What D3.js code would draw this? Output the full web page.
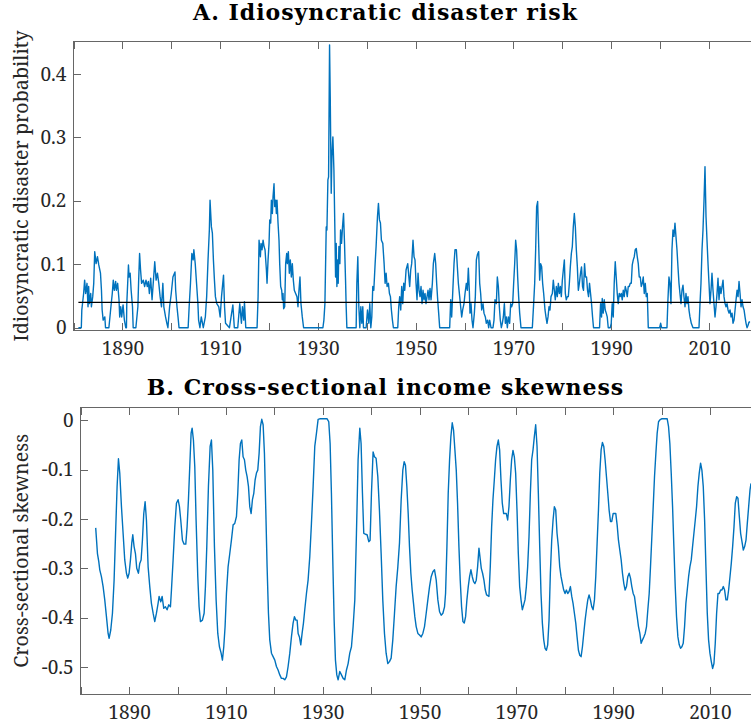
<!DOCTYPE html>
<html>
    <head>
        <meta charset="utf-8">
        <title>Idiosyncratic disaster risk and income skewness</title>
        <style>
body {
    margin: 0;
    background-color: white;
}

svg {
    display: block;
    background-color: white;
}

.axis text {
    font-family: 'Noto Serif', serif;
    font-size: 19px;
    fill: #262626;
}

.axis line {
    stroke: #666;
    stroke-width: 1;
    shape-rendering: crispEdges;
}

.title {
    font-family: 'DejaVu Serif', serif;
    font-size: 22px;
    font-weight: bold;
    letter-spacing: 1px;
    fill: #000;
}

.ylabel {
    font-family: 'Noto Serif', serif;
    font-size: 19.7px;
    fill: #262626;
}

.series {
    fill: none;
    stroke: #0072bd;
    stroke-width: 1.4;
    stroke-linejoin: round;
}
</style>
        <script src="https://cdn.jsdelivr.net/npm/d3@7"></script>
    </head>
    <body>
        <script>
// panel A: idiosyncratic disaster probability
var yearsA = [
    1881.0, 1881.6, 1881.7, 1882.07, 1882.28, 1882.48, 1882.76, 1882.97, 1883.1, 1883.24,
    1883.52, 1883.66, 1883.93, 1884.14, 1884.34, 1884.62, 1884.9, 1885.17, 1885.52, 1885.72,
    1885.86, 1886.07, 1886.41, 1886.55, 1887.24, 1887.59, 1887.93, 1888.14, 1888.34, 1888.62,
    1888.76, 1889.03, 1889.31, 1889.45, 1889.66, 1889.86, 1890.14, 1890.41, 1890.69, 1890.83,
    1890.9, 1891.1, 1891.24, 1891.38, 1891.59, 1891.79, 1892.07, 1892.21, 1892.76, 1893.17,
    1893.31, 1893.52, 1893.72, 1893.93, 1894.28, 1894.55, 1894.83, 1895.1, 1895.31, 1895.52,
    1895.79, 1896.07, 1896.62, 1896.9, 1897.17, 1897.45, 1897.72, 1898.0, 1898.28, 1898.48,
    1898.83, 1899.1, 1899.31, 1899.66, 1900.0, 1900.34, 1900.76, 1900.9, 1901.17, 1901.38,
    1901.59, 1903.45, 1903.66, 1903.93, 1904.21, 1904.48, 1904.62, 1904.9, 1905.17, 1905.45,
    1905.59, 1905.86, 1906.14, 1906.55, 1906.97, 1907.24, 1907.52, 1907.79, 1907.93, 1908.21,
    1908.41, 1908.62, 1908.83, 1909.03, 1909.31, 1909.72, 1910.0, 1910.28, 1910.69, 1910.9,
    1911.1, 1911.9, 1912.6, 1912.9, 1913.6, 1914.01, 1914.35, 1914.56, 1914.83, 1914.97,
    1915.24, 1917.55, 1917.76, 1917.96, 1918.23, 1918.37, 1918.57, 1918.78, 1918.98, 1919.18,
    1919.46, 1919.59, 1919.8, 1920.0, 1920.14, 1920.34, 1920.48, 1920.68, 1920.82, 1921.02,
    1921.16, 1921.36, 1921.5, 1921.63, 1921.84, 1922.04, 1922.18, 1922.38, 1922.59, 1922.72,
    1922.86, 1922.99, 1923.2, 1923.4, 1923.61, 1923.74, 1923.95, 1924.15, 1924.35, 1924.56,
    1924.76, 1924.97, 1925.17, 1925.44, 1925.71, 1925.92, 1926.12, 1926.33, 1926.53, 1926.8,
    1927.07, 1931.02, 1931.22, 1931.43, 1931.7, 1931.84, 1932.04, 1932.18, 1932.38, 1932.52,
    1932.72, 1932.86, 1933.06, 1933.27, 1933.47, 1933.61, 1933.74, 1933.88, 1934.01, 1934.15,
    1934.29, 1934.49, 1934.63, 1934.83, 1935.03, 1935.24, 1935.44, 1935.65, 1935.78, 1935.92,
    1937.82, 1937.96, 1938.16, 1938.37, 1938.57, 1938.78, 1938.98, 1939.18, 1939.32, 1939.86,
    1940.14, 1940.41, 1940.61, 1940.82, 1941.02, 1941.22, 1941.43, 1941.7, 1941.9, 1942.18,
    1942.38, 1942.59, 1942.79, 1942.99, 1943.27, 1943.54, 1943.74, 1943.95, 1944.15, 1944.42,
    1944.63, 1944.83, 1945.03, 1945.24, 1945.44, 1946.33, 1946.53, 1946.73, 1946.94, 1947.14,
    1947.35, 1947.55, 1947.76, 1948.03, 1948.37, 1948.77, 1948.98, 1949.18, 1949.45, 1949.66,
    1949.86, 1950.07, 1950.27, 1950.48, 1950.68, 1950.89, 1951.09, 1951.3, 1951.5, 1951.7,
    1951.91, 1952.11, 1952.32, 1952.52, 1952.73, 1952.93, 1953.14, 1953.41, 1953.61, 1953.89,
    1954.09, 1954.29, 1954.5, 1954.7, 1954.91, 1956.95, 1957.16, 1957.36, 1957.63, 1957.84,
    1958.04, 1958.32, 1958.52, 1958.73, 1959.0, 1959.2, 1959.41, 1959.61, 1959.88, 1960.09,
    1960.36, 1960.57, 1960.77, 1960.97, 1961.11, 1961.32, 1961.52, 1961.72, 1962.0, 1962.2,
    1962.41, 1962.61, 1962.88, 1963.09, 1963.29, 1963.5, 1963.77, 1963.97, 1964.25, 1964.45,
    1964.72, 1964.93, 1965.13, 1965.41, 1965.81, 1966.02, 1966.22, 1966.5, 1966.7, 1966.91,
    1967.11, 1967.31, 1967.52, 1967.72, 1967.93, 1968.14, 1968.34, 1968.54, 1968.75, 1968.96,
    1969.22, 1969.43, 1969.63, 1969.84, 1970.04, 1970.25, 1970.45, 1970.65, 1970.86, 1971.06,
    1971.27, 1971.54, 1973.86, 1974.13, 1974.34, 1974.54, 1974.74, 1974.95, 1975.15, 1975.36,
    1975.56, 1975.77, 1975.97, 1976.18, 1976.45, 1976.65, 1976.86, 1977.07, 1977.27, 1977.47,
    1977.68, 1977.95, 1978.15, 1978.36, 1978.56, 1978.77, 1978.97, 1979.18, 1979.39, 1979.59,
    1979.79, 1980.0, 1980.2, 1980.41, 1980.61, 1980.81, 1981.02, 1981.22, 1981.43, 1981.63,
    1981.84, 1982.04, 1982.24, 1982.45, 1982.66, 1982.86, 1983.07, 1983.27, 1983.48, 1983.72,
    1983.92, 1984.13, 1984.33, 1984.54, 1984.74, 1984.95, 1985.15, 1985.36, 1985.56, 1985.77,
    1985.97, 1986.18, 1986.38, 1987.61, 1987.82, 1988.02, 1988.16, 1988.36, 1988.57, 1988.77,
    1988.98, 1989.18, 1989.39, 1989.8, 1990.0, 1990.2, 1990.41, 1990.61, 1990.82, 1991.02,
    1991.23, 1991.43, 1991.64, 1991.84, 1992.05, 1992.25, 1992.46, 1992.66, 1992.87, 1993.07,
    1993.28, 1993.48, 1993.69, 1993.89, 1994.1, 1994.3, 1994.51, 1994.71, 1994.91, 1995.12,
    1995.32, 1995.53, 1995.73, 1995.94, 1996.14, 1996.35, 1996.55, 1996.76, 1996.96, 1997.17,
    1997.37, 1997.58, 1999.9, 2000.1, 2000.31, 2001.4, 2001.6, 2001.81, 2002.01, 2002.22,
    2002.42, 2002.63, 2002.83, 2003.04, 2003.24, 2003.45, 2003.65, 2003.86, 2004.06, 2004.27,
    2004.47, 2004.68, 2004.88, 2005.09, 2005.29, 2005.49, 2005.7, 2005.9, 2006.11, 2006.38,
    2006.72, 2007.95, 2008.16, 2008.36, 2008.57, 2008.77, 2008.98, 2009.18, 2009.39, 2009.59,
    2009.8, 2010.0, 2010.2, 2010.41, 2010.61, 2010.82, 2011.02, 2011.23, 2011.43, 2011.64,
    2011.84, 2012.05, 2012.25, 2012.46, 2012.66, 2012.87, 2013.07, 2013.28, 2013.48, 2013.69,
    2013.89, 2014.1, 2014.3, 2014.51, 2014.71, 2014.91, 2015.12, 2015.33, 2015.53, 2015.74,
    2015.94, 2016.14, 2016.35, 2016.55, 2016.76, 2016.96, 2017.17, 2017.37, 2017.58, 2017.78,
    2017.99, 2018.19, 2018.4
];
var riskA = [
    0, 0, 0.028, 0.054, 0.075, 0.054, 0.070, 0.033, 0.065, 0.038,
    0.054, 0.033, 0.049, 0.070, 0.120, 0.101, 0.112, 0.099, 0.086, 0.059,
    0.028, 0.012, 0.017, 0, 0, 0.028, 0.054, 0.075, 0.059, 0.073,
    0.059, 0.070, 0.044, 0.017, 0.033, 0.017, 0.036, 0.012, 0, 0,
    0.038, 0.073, 0.099, 0.080, 0.086, 0.059, 0.033, 0, 0, 0.033,
    0.070, 0.117, 0.091, 0.070, 0.075, 0.065, 0.075, 0.065, 0.073, 0.054,
    0.078, 0.044, 0.104, 0.075, 0.086, 0.070, 0.049, 0.033, 0.070, 0.033,
    0.017, 0.007, 0, 0.033, 0.054, 0.080, 0.088, 0.059, 0.033, 0.017,
    0, 0, 0.033, 0.070, 0.117, 0.107, 0.123, 0.101, 0.070, 0.038,
    0.012, 0, 0.017, 0, 0.017, 0.049, 0.107, 0.154, 0.201, 0.159,
    0.149, 0.107, 0.075, 0.049, 0.038, 0.033, 0.017, 0.049, 0.083, 0.033,
    0.007, 0, 0.036, 0, 0, 0.038, 0.007, 0.033, 0.012, 0.041,
    0, 0, 0.049, 0.138, 0.112, 0.133, 0.123, 0.138, 0.128, 0.123,
    0.091, 0.070, 0.107, 0.133, 0.170, 0.165, 0.201, 0.180, 0.207, 0.227,
    0.191, 0.201, 0.180, 0.201, 0.165, 0.138, 0.101, 0.065, 0.059, 0.044,
    0.054, 0.030, 0.033, 0.101, 0.117, 0.101, 0.120, 0.086, 0.107, 0.080,
    0.101, 0.075, 0.059, 0.054, 0.049, 0.033, 0.059, 0.080, 0.038, 0.017,
    0, 0, 0.012, 0.038, 0.159, 0.154, 0.233, 0.238, 0.446, 0.364,
    0.212, 0.270, 0.301, 0.249, 0.154, 0.080, 0.133, 0.065, 0.107, 0.070,
    0.128, 0.101, 0.154, 0.133, 0.159, 0.180, 0.133, 0.075, 0.033, 0,
    0, 0.070, 0.112, 0.033, 0, 0.033, 0.007, 0.033, 0, 0,
    0.028, 0.007, 0.038, 0, 0.017, 0.065, 0.059, 0.101, 0.128, 0.175,
    0.196, 0.170, 0.165, 0.138, 0.133, 0.101, 0.070, 0.086, 0.065, 0.070,
    0.054, 0.049, 0.028, 0.012, 0, 0, 0.033, 0.049, 0.028, 0.065,
    0.038, 0.070, 0.059, 0.091, 0.101, 0.065, 0.091, 0.101, 0.138, 0.112,
    0.107, 0.070, 0.044, 0.086, 0.059, 0.049, 0.065, 0.038, 0.059, 0.044,
    0.054, 0.038, 0.049, 0.059, 0.044, 0.062, 0.044, 0.070, 0.101, 0.117,
    0.101, 0.070, 0.044, 0.023, 0, 0, 0.044, 0.017, 0.065, 0.101,
    0.123, 0.123, 0.096, 0.070, 0.049, 0.033, 0.017, 0.028, 0.038, 0.054,
    0.070, 0.059, 0.094, 0.059, 0.023, 0.038, 0.012, 0, 0.023, 0.049,
    0.107, 0.115, 0.120, 0.070, 0.054, 0.028, 0.038, 0.023, 0.017, 0.007,
    0.012, 0, 0.012, 0, 0, 0.012, 0.044, 0.038, 0.080, 0.065,
    0.033, 0.012, 0, 0.007, 0.017, 0.038, 0.007, 0.017, 0, 0.017,
    0.007, 0.038, 0.033, 0.038, 0.070, 0.101, 0.138, 0.123, 0.080, 0.049,
    0.023, 0, 0, 0.038, 0.070, 0.123, 0.191, 0.199, 0.133, 0.075,
    0.101, 0.096, 0.070, 0.054, 0.028, 0.017, 0.007, 0.017, 0.033, 0.028,
    0.049, 0.054, 0.075, 0.059, 0.044, 0.065, 0.049, 0.070, 0.054, 0.065,
    0.049, 0.075, 0.091, 0.107, 0.054, 0.044, 0.049, 0.049, 0.070, 0.096,
    0.117, 0.128, 0.159, 0.180, 0.159, 0.123, 0.096, 0.059, 0.070, 0.086,
    0.096, 0.065, 0.059, 0.101, 0.080, 0.080, 0.059, 0.049, 0.070, 0.054,
    0.038, 0.017, 0, 0, 0.038, 0.017, 0.046, 0.023, 0.044, 0.028,
    0.023, 0.017, 0, 0, 0.007, 0.038, 0.017, 0.070, 0.104, 0.080,
    0.054, 0.038, 0.054, 0.049, 0.054, 0.044, 0.059, 0.049, 0.065, 0.059,
    0.049, 0.065, 0.065, 0.070, 0.070, 0.099, 0.107, 0.112, 0.123, 0.125,
    0.112, 0.101, 0.080, 0.080, 0.065, 0.070, 0.080, 0.054, 0.070, 0.049,
    0.054, 0, 0, 0.007, 0, 0, 0.044, 0.080, 0.070, 0.038,
    0.123, 0.154, 0.144, 0.165, 0.144, 0.123, 0.096, 0.070, 0.054, 0.038,
    0.059, 0.067, 0.049, 0.033, 0.054, 0.038, 0.049, 0.028, 0.017, 0.007,
    0, 0, 0.038, 0.070, 0.123, 0.154, 0.201, 0.254, 0.175, 0.138,
    0.101, 0.070, 0.038, 0.059, 0.086, 0.059, 0.038, 0.017, 0.033, 0.054,
    0.078, 0.044, 0.065, 0.054, 0.065, 0.075, 0.049, 0.038, 0.033, 0.038,
    0.028, 0.023, 0.028, 0.017, 0.023, 0.007, 0.012, 0.028, 0.044, 0.059,
    0.049, 0.073, 0.054, 0.033, 0.044, 0.033, 0.028, 0.017, 0.007, 0,
    0.004, 0.009, 0.009
];
var thresholdA = 0.04;
var thresholdYears = [1881, 2019];

// panel B: cross-sectional income skewness
var yearsB = [
    1883.1, 1883.46, 1883.73, 1883.94, 1884.28, 1884.63, 1884.97, 1885.32, 1885.66, 1885.87,
    1886.21, 1886.56, 1886.9, 1887.25, 1887.52, 1887.8, 1888.07, 1888.42, 1888.76, 1889.1,
    1889.45, 1889.72, 1890.0, 1890.28, 1890.55, 1890.76, 1891.03, 1891.31, 1891.58, 1891.93,
    1892.2, 1892.48, 1892.75, 1893.03, 1893.31, 1893.58, 1893.93, 1894.27, 1894.61, 1894.96,
    1895.3, 1895.65, 1895.99, 1896.2, 1896.54, 1896.82, 1897.16, 1897.51, 1897.85, 1898.2,
    1898.54, 1898.75, 1899.09, 1899.44, 1899.78, 1900.12, 1900.4, 1900.67, 1901.02, 1901.36,
    1901.71, 1901.98, 1902.26, 1902.53, 1902.81, 1903.02, 1903.29, 1903.57, 1903.84, 1904.19,
    1904.46, 1904.74, 1905.15, 1905.5, 1905.77, 1906.05, 1906.39, 1906.74, 1907.01, 1907.29,
    1907.63, 1907.98, 1908.32, 1908.66, 1909.01, 1909.28, 1909.56, 1909.83, 1910.11, 1910.45,
    1910.8, 1911.14, 1911.49, 1911.83, 1912.18, 1912.45, 1912.73, 1913.0, 1913.28, 1913.55,
    1913.83, 1914.1, 1914.38, 1914.66, 1914.93, 1915.21, 1915.48, 1915.76, 1916.03, 1916.31,
    1916.58, 1916.86, 1917.13, 1917.41, 1917.69, 1917.96, 1918.24, 1918.51, 1918.79, 1919.06,
    1919.41, 1919.75, 1920.1, 1920.44, 1920.78, 1921.13, 1921.47, 1921.82, 1922.16, 1922.51,
    1922.85, 1923.2, 1923.54, 1923.88, 1924.16, 1924.44, 1924.71, 1924.92, 1925.19, 1925.47,
    1925.74, 1926.02, 1926.29, 1926.64, 1926.98, 1927.33, 1927.67, 1928.02, 1928.36, 1928.71,
    1929.05, 1929.39, 1930.08, 1930.91, 1931.25, 1931.53, 1931.8, 1932.08, 1932.36, 1932.63,
    1932.91, 1933.18, 1933.53, 1933.87, 1934.22, 1934.56, 1934.91, 1935.25, 1935.59, 1935.94,
    1936.28, 1936.63, 1936.97, 1937.31, 1937.66, 1937.93, 1938.21, 1938.48, 1938.83, 1939.17,
    1939.52, 1939.79, 1940.07, 1940.41, 1940.69, 1941.03, 1941.38, 1941.72, 1942.07, 1942.41,
    1942.76, 1943.1, 1943.45, 1943.79, 1944.14, 1944.48, 1944.83, 1945.17, 1945.52, 1945.86,
    1946.21, 1946.55, 1946.83, 1947.1, 1947.38, 1947.66, 1947.93, 1948.21, 1948.48, 1948.76,
    1949.03, 1949.31, 1949.66, 1950.0, 1950.34, 1950.69, 1951.03, 1951.38, 1951.72, 1952.07,
    1952.41, 1952.76, 1953.1, 1953.45, 1953.79, 1954.14, 1954.48, 1954.83, 1955.17, 1955.38,
    1955.66, 1955.93, 1956.21, 1956.48, 1956.76, 1957.03, 1957.31, 1957.59, 1957.86, 1958.14,
    1958.41, 1958.69, 1958.97, 1959.24, 1959.52, 1959.79, 1960.07, 1960.34, 1960.62, 1960.9,
    1961.17, 1961.45, 1961.72, 1962.0, 1962.28, 1962.48, 1962.76, 1963.03, 1963.31, 1963.59,
    1963.86, 1964.34, 1964.62, 1964.9, 1965.17, 1965.45, 1965.72, 1966.0, 1966.28, 1966.55,
    1966.83, 1967.1, 1967.38, 1967.66, 1967.93, 1968.21, 1968.48, 1968.76, 1969.03, 1969.31,
    1969.59, 1969.86, 1970.14, 1970.41, 1970.69, 1970.97, 1971.24, 1971.52, 1971.79, 1972.07,
    1972.34, 1972.62, 1972.9, 1973.17, 1973.45, 1973.72, 1974.0, 1974.28, 1974.55, 1974.83,
    1975.1, 1975.38, 1975.66, 1975.93, 1976.21, 1976.48, 1976.76, 1977.03, 1977.31, 1977.59,
    1977.86, 1978.14, 1978.41, 1978.69, 1978.97, 1979.24, 1979.52, 1979.79, 1980.07, 1980.34,
    1980.62, 1980.9, 1981.17, 1981.45, 1981.72, 1982.0, 1982.28, 1982.55, 1982.83, 1983.1,
    1983.38, 1983.66, 1983.93, 1984.21, 1984.48, 1984.76, 1985.03, 1985.31, 1985.59, 1985.86,
    1986.14, 1986.41, 1986.69, 1986.97, 1987.24, 1987.52, 1987.79, 1988.07, 1988.34, 1988.62,
    1988.9, 1989.17, 1989.45, 1989.72, 1990.0, 1990.28, 1990.55, 1990.83, 1991.1, 1991.38,
    1991.66, 1991.93, 1992.21, 1992.48, 1992.76, 1993.03, 1993.31, 1993.59, 1993.86, 1994.14,
    1994.41, 1994.69, 1994.97, 1995.24, 1995.52, 1995.79, 1996.07, 1996.34, 1996.62, 1996.9,
    1997.17, 1997.45, 1997.72, 1998.0, 1998.28, 1998.55, 1998.83, 1999.1, 1999.38, 1999.66,
    2000.0, 2000.69, 2001.17, 2001.45, 2001.72, 2002.0, 2002.28, 2002.55, 2002.83, 2003.1,
    2003.38, 2003.66, 2003.93, 2004.21, 2004.48, 2004.76, 2005.03, 2005.31, 2005.59, 2005.86,
    2006.14, 2006.41, 2006.69, 2006.97, 2007.24, 2007.52, 2007.79, 2008.07, 2008.34, 2008.62,
    2008.9, 2009.17, 2009.45, 2009.72, 2010.0, 2010.28, 2010.55, 2010.83, 2011.1, 2011.38,
    2011.66, 2011.93, 2012.21, 2012.48, 2012.76, 2013.03, 2013.31, 2013.59, 2013.86, 2014.14,
    2014.41, 2014.69, 2014.97, 2015.24, 2015.52, 2015.79, 2016.07, 2016.34, 2016.62, 2016.9,
    2017.17, 2017.45, 2017.72, 2018.0, 2018.28, 2018.48
];
var skewB = [
    -0.218, -0.270, -0.286, -0.303, -0.317, -0.337, -0.364, -0.398, -0.432, -0.442,
    -0.425, -0.391, -0.324, -0.216, -0.134, -0.078, -0.107, -0.175, -0.229, -0.283,
    -0.310, -0.320, -0.310, -0.283, -0.249, -0.232, -0.256, -0.270, -0.300, -0.310,
    -0.290, -0.283, -0.243, -0.189, -0.165, -0.202, -0.297, -0.337, -0.371, -0.391,
    -0.408, -0.391, -0.371, -0.357, -0.368, -0.357, -0.381, -0.378, -0.384, -0.374,
    -0.378, -0.344, -0.283, -0.216, -0.168, -0.161, -0.175, -0.202, -0.243, -0.251,
    -0.251, -0.216, -0.161, -0.094, -0.026, -0.016, -0.040, -0.094, -0.202, -0.317,
    -0.378, -0.408, -0.405, -0.391, -0.337, -0.256, -0.134, -0.053, -0.040, -0.101,
    -0.256, -0.364, -0.432, -0.459, -0.472, -0.486, -0.459, -0.418, -0.351, -0.297,
    -0.270, -0.243, -0.212, -0.209, -0.195, -0.148, -0.080, -0.047, -0.040, -0.074,
    -0.080, -0.101, -0.114, -0.134, -0.175, -0.189, -0.161, -0.148, -0.121, -0.107,
    -0.101, -0.067, -0.013, 0.002, -0.009, -0.067, -0.182, -0.297, -0.391, -0.445,
    -0.472, -0.479, -0.486, -0.499, -0.506, -0.516, -0.523, -0.523, -0.526, -0.520,
    -0.499, -0.472, -0.439, -0.411, -0.398, -0.405, -0.405, -0.432, -0.439, -0.455,
    -0.432, -0.411, -0.384, -0.351, -0.324, -0.276, -0.209, -0.134, -0.053, -0.026,
    0.002, 0.003, 0.003, 0.003, -0.003, -0.047, -0.148, -0.283, -0.405, -0.486,
    -0.516, -0.526, -0.509, -0.516, -0.523, -0.526, -0.506, -0.493, -0.472, -0.459,
    -0.418, -0.364, -0.229, -0.080, -0.016, -0.047, -0.148, -0.229, -0.231, -0.232,
    -0.246, -0.243, -0.148, -0.064, -0.074, -0.077, -0.114, -0.182, -0.270, -0.364,
    -0.432, -0.472, -0.493, -0.489, -0.482, -0.445, -0.391, -0.337, -0.297, -0.249,
    -0.161, -0.101, -0.084, -0.091, -0.134, -0.189, -0.256, -0.310, -0.344, -0.371,
    -0.398, -0.418, -0.432, -0.435, -0.439, -0.432, -0.418, -0.391, -0.364, -0.337,
    -0.317, -0.307, -0.303, -0.324, -0.364, -0.388, -0.395, -0.391, -0.378, -0.351,
    -0.256, -0.148, -0.080, -0.033, -0.005, -0.020, -0.060, -0.101, -0.168, -0.256,
    -0.324, -0.378, -0.408, -0.411, -0.398, -0.364, -0.337, -0.317, -0.303, -0.317,
    -0.327, -0.331, -0.324, -0.297, -0.259, -0.276, -0.300, -0.310, -0.324, -0.344,
    -0.354, -0.357, -0.297, -0.216, -0.161, -0.121, -0.080, -0.053, -0.040, -0.060,
    -0.121, -0.168, -0.189, -0.189, -0.189, -0.202, -0.175, -0.121, -0.080, -0.061,
    -0.074, -0.107, -0.182, -0.270, -0.337, -0.364, -0.384, -0.374, -0.364, -0.337,
    -0.297, -0.236, -0.148, -0.080, -0.060, -0.033, -0.009, -0.053, -0.148, -0.256,
    -0.351, -0.411, -0.445, -0.462, -0.466, -0.455, -0.405, -0.310, -0.243, -0.202,
    -0.175, -0.182, -0.229, -0.256, -0.297, -0.317, -0.331, -0.344, -0.351, -0.344,
    -0.351, -0.347, -0.337, -0.357, -0.371, -0.391, -0.411, -0.439, -0.466, -0.476,
    -0.479, -0.459, -0.432, -0.405, -0.384, -0.364, -0.354, -0.364, -0.378, -0.384,
    -0.364, -0.317, -0.249, -0.182, -0.107, -0.060, -0.045, -0.053, -0.080, -0.114,
    -0.148, -0.182, -0.205, -0.205, -0.189, -0.189, -0.189, -0.212, -0.243, -0.263,
    -0.283, -0.310, -0.331, -0.344, -0.337, -0.317, -0.310, -0.320, -0.337, -0.351,
    -0.357, -0.378, -0.398, -0.418, -0.432, -0.452, -0.445, -0.439, -0.432, -0.418,
    -0.384, -0.351, -0.297, -0.236, -0.175, -0.114, -0.067, -0.026, -0.003, 0.001,
    0.003, 0.003, 0.003, -0.013, -0.047, -0.107, -0.175, -0.256, -0.337, -0.398,
    -0.439, -0.455, -0.462, -0.459, -0.452, -0.418, -0.371, -0.344, -0.317, -0.297,
    -0.283, -0.256, -0.229, -0.202, -0.175, -0.134, -0.107, -0.087, -0.101, -0.134,
    -0.202, -0.297, -0.391, -0.445, -0.472, -0.489, -0.503, -0.493, -0.452, -0.391,
    -0.351, -0.351, -0.344, -0.344, -0.337, -0.344, -0.364, -0.364, -0.344, -0.317,
    -0.290, -0.256, -0.216, -0.168, -0.155, -0.158, -0.195, -0.229, -0.246, -0.263,
    -0.256, -0.243, -0.209, -0.175, -0.141, -0.128
];

// axes settings
var xTicks = [1880, 1890, 1900, 1910, 1920, 1930, 1940, 1950, 1960, 1970, 1980, 1990, 2000, 2010];
var xTickLabels = [1890, 1910, 1930, 1950, 1970, 1990, 2010];
var yTicksA = [0, 0.1, 0.2, 0.3, 0.4];
var yTicksB = [0, -0.1, -0.2, -0.3, -0.4, -0.5];

var width = 751,
    height = 727;

var svg = d3.select('body')
    .append('svg')
    .attr('width', width)
    .attr('height', height);

var panels = [
    {
        id: 'a',
        title: 'A. Idiosyncratic disaster risk',
        ylabel: 'Idiosyncratic disaster probability',
        years: yearsA, values: riskA,
        left: 73.5, right: 753, top: 41.7, bottom: 330,
        ydomain: [-0.0036, 0.451],
        yticks: yTicksA,
        titleY: 20
    },
    {
        id: 'b',
        title: 'B. Cross-sectional income skewness',
        ylabel: 'Cross-sectional skewness',
        years: yearsB, values: skewB,
        left: 80.7, right: 753.5, top: 407.7, bottom: 694,
        ydomain: [-0.5547, 0.0255],
        yticks: yTicksB,
        titleY: 395
    }
];

var fmtY = function (d) {
    return d === 0 ? '0' : d3.format('.1f')(d).replace('\u2212', '-');
};

panels.forEach(function (p) {
    var x = d3.scaleLinear().domain([1880, 2019]).range([p.left, p.right]);
    var y = d3.scaleLinear().domain(p.ydomain).range([p.bottom, p.top]);

    var g = svg.append('g');

    // box
    g.append('rect')
        .attr('x', p.left)
        .attr('y', p.top)
        .attr('width', p.right - p.left)
        .attr('height', p.bottom - p.top)
        .attr('fill', 'none')
        .attr('stroke', '#666')
        .attr('shape-rendering', 'crispEdges');

    g.append('g')
        .attr('class', 'axis')
        .attr('transform', 'translate(0,' + p.bottom + ')')
        .call(d3.axisBottom(x)
            .tickValues(xTicks)
            .tickSizeInner(-7)
            .tickSizeOuter(0)
            .tickPadding(12)
            .tickFormat(function (d) { return xTickLabels.indexOf(d) >= 0 ? d : ''; }));

    g.append('g')
        .attr('class', 'axis')
        .attr('transform', 'translate(0,' + p.top + ')')
        .call(d3.axisTop(x)
            .tickValues(xTicks)
            .tickSizeInner(-7)
            .tickSizeOuter(0)
            .tickFormat(''));

    g.append('g')
        .attr('class', 'axis')
        .attr('transform', 'translate(' + p.left + ',0)')
        .call(d3.axisLeft(y)
            .tickValues(p.yticks)
            .tickSizeInner(-7)
            .tickSizeOuter(0)
            .tickPadding(7)
            .tickFormat(fmtY));

    g.selectAll('.axis .domain').remove();
    g.selectAll('.axis')
        .attr('font-family', null)
        .attr('font-size', null);

    g.append('clipPath')
        .attr('id', 'clip-' + p.id)
        .append('rect')
        .attr('x', p.left)
        .attr('y', p.top)
        .attr('width', p.right - p.left)
        .attr('height', p.bottom - p.top);

    var line = d3.line()
        .x(function (d, i) { return x(p.years[i]); })
        .y(function (d) { return y(d); });

    g.append('path')
        .datum(p.values)
        .attr('class', 'series')
        .attr('clip-path', 'url(#clip-' + p.id + ')')
        .attr('d', line);

    if (p.id === 'a') {
        g.append('line')
            .attr('x1', x(thresholdYears[0]))
            .attr('x2', x(thresholdYears[1]))
            .attr('y1', y(thresholdA))
            .attr('y2', y(thresholdA))
            .attr('stroke', '#000')
            .attr('stroke-width', 1.4);
    }

    g.append('text')
        .attr('class', 'title')
        .attr('x', 385.5)
        .attr('y', p.titleY)
        .attr('text-anchor', 'middle')
        .text(p.title);

    g.append('text')
        .attr('class', 'ylabel')
        .attr('transform', 'translate(28,' + ((p.top + p.bottom) / 2) + ') rotate(-90)')
        .attr('text-anchor', 'middle')
        .text(p.ylabel);
});

        </script>
    </body>
</html>
